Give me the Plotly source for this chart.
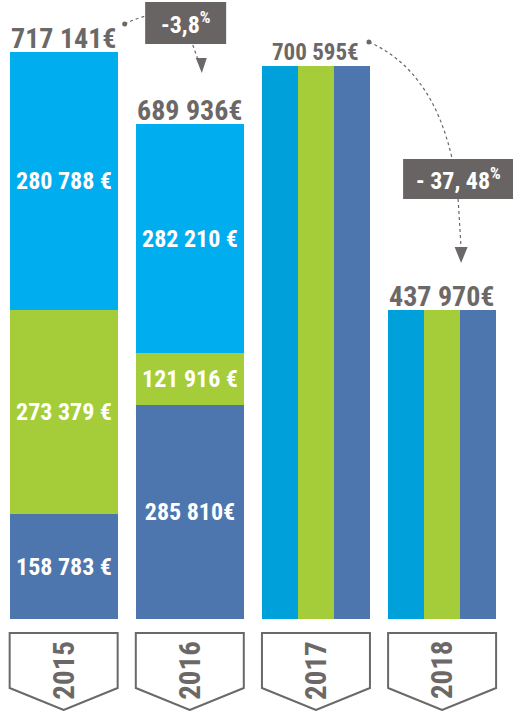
import plotly.graph_objects as go

# ---------------- data ----------------
years = ["2015", "2016", "2017", "2018"]
totals_label = ["717 141€", "689 936€", "700 595€", "437 970€"]
# stacked segments (2015, 2016): labels and drawn heights (graphic is not to scale)
seg_labels_bottom = ["158 783 €", "285 810€"]
seg_labels_middle = ["273 379 €", "121 916 €"]
seg_labels_top = ["280 788 €", "282 210 €"]
seg_h_bottom = [105, 214]
seg_h_middle = [204, 52]
seg_h_top = [258, 229]
# split columns (2017, 2018): drawn heights
split_h = [553, 309]
changes = ["-3,8<sup>%</sup>", "- 37, 48<sup>%</sup>"]

# ---------------- style ----------------
W, H = 513, 711
FONT = "Roboto Condensed, Open Sans Condensed, Roboto, sans-serif"
CYAN = "#00AEEF"
CYAN2 = "#00A0DA"
GREEN = "#A4CD39"
BLUE = "#4D76AE"
GRAY = "#6C6867"
BOXGRAY = "#686463"

X0, X1 = -0.5046, 3.562          # category-index axis range
PXU = W / (X1 - X0)              # pixels per category unit
Y0, Y1 = -92, 619                # y axis in drawn units (1 unit = 1 px)
BW = 108 / PXU                   # bar width
SW = BW / 3                      # sub-bar width

fig = go.Figure()

# stacked bars
base_mid = seg_h_bottom
base_top = [a + b for a, b in zip(seg_h_bottom, seg_h_middle)]
for ys, bases, col, labs in [
    (seg_h_bottom, [0, 0], BLUE, seg_labels_bottom),
    (seg_h_middle, base_mid, GREEN, seg_labels_middle),
    (seg_h_top, base_top, CYAN, seg_labels_top),
]:
    fig.add_trace(go.Bar(
        x=[0, 1], y=ys, base=bases, width=BW, marker=dict(color=col, line=dict(width=0)),
        text=["<b>%s</b>" % t for t in labs], textposition="inside", insidetextanchor="middle",
        constraintext="none", textangle=0,
        textfont=dict(color="white", size=24, family=FONT), hoverinfo="skip", showlegend=False,
    ))

# split bars
for j, col in enumerate([CYAN2, GREEN, BLUE]):
    fig.add_trace(go.Bar(
        x=[2 + (j - 1) * SW, 3 + (j - 1) * SW], y=split_h, base=[0, 0], width=SW,
        marker=dict(color=col, line=dict(width=0)), textposition="none",
        hoverinfo="skip", showlegend=False,
    ))

tops = [b + t for b, t in zip(base_top, seg_h_top)] + split_h
sizes = [28, 28, 23, 28]
annotations = []
for i, (lab, top) in enumerate(zip(totals_label, tops)):
    annotations.append(dict(x=i, y=top + 14, text="<b>%s</b>" % lab, showarrow=False,
                            xanchor="center", yanchor="middle",
                            font=dict(size=sizes[i], color=GRAY, family=FONT)))

# year badges
shapes = []
for i, yr in enumerate(years):
    l, r = i - BW / 2, i + BW / 2
    path = "M %f,%f L %f,%f L %f,%f L %f,%f L %f,%f Z" % (l, -14, r, -14, r, -69, i, -91, l, -69)
    shapes.append(dict(type="path", path=path, line=dict(color=GRAY, width=2), fillcolor="white",
                       xref="x", yref="y"))
    annotations.append(dict(x=i, y=-51, text="<b>%s</b>" % yr, textangle=-90, showarrow=False,
                            font=dict(size=29, color=GRAY, family=FONT)))

def px(dx):
    return dx / PXU

def box(cx, cy, w, h, text, size):
    shapes.append(dict(type="rect", x0=cx - px(w / 2), x1=cx + px(w / 2), y0=cy - h / 2, y1=cy + h / 2,
                       fillcolor=BOXGRAY, line=dict(width=0), layer="above"))
    annotations.append(dict(x=cx, y=cy, text="<b>%s</b>" % text, showarrow=False,
                            font=dict(size=size, color="white", family=FONT)))

# change 1: 2015 -> 2016
t0, t1 = tops[0], tops[1]
sx, sy = 0 + px(61), t0 + 28
ex, ey = 0 + px(82), t0 + 36
shapes.append(dict(type="path", path="M %f,%f Q %f,%f %f,%f" % (sx, sy, sx + px(10), sy + 5, ex, ey),
                   line=dict(color=GRAY, width=1.2, dash="dot")))
shapes.append(dict(type="circle", x0=sx - px(2.5), x1=sx + px(2.5), y0=sy - 2.5, y1=sy + 2.5,
                   fillcolor=GRAY, line=dict(width=0)))
box(0 + px(122), t0 + 29, 81, 42, changes[0], 24)
ax0, ay0 = 1 + px(3), t1 + 79
ax1, ay1 = 1 + px(12), t1 + 51
shapes.append(dict(type="path", path="M %f,%f L %f,%f" % (ax0, ay0, 1 + px(9), t1 + 62),
                   line=dict(color=GRAY, width=1.2, dash="dot")))
shapes.append(dict(type="path", path="M %f,%f L %f,%f L %f,%f Z" % (ax1 - px(6), ay1 + 15, ax1 + px(5), ay1 + 15, ax1, ay1),
                   fillcolor=GRAY, line=dict(width=0)))

# change 2: 2017 -> 2018
t2, t3 = tops[2], tops[3]
sx, sy = 2 + px(53), t2 + 24
ex, ey = 2 + px(136), t2 - 92
shapes.append(dict(type="path", path="M %f,%f Q %f,%f %f,%f" % (sx, sy, 2 + px(116), t2 - 4, ex, ey),
                   line=dict(color=GRAY, width=1.2, dash="dot")))
shapes.append(dict(type="circle", x0=sx - px(2.5), x1=sx + px(2.5), y0=sy - 2.5, y1=sy + 2.5,
                   fillcolor=GRAY, line=dict(width=0)))
box(3 + px(16), t3 + 131, 110, 40, changes[1], 24)
ax1, ay1 = 3 + px(19), t3 + 47
shapes.append(dict(type="path", path="M %f,%f L %f,%f" % (3 + px(16), t3 + 111, ax1, ay1 + 15),
                   line=dict(color=GRAY, width=1.2, dash="dot")))
shapes.append(dict(type="path", path="M %f,%f L %f,%f L %f,%f Z" % (ax1 - px(6.5), ay1 + 16, ax1 + px(6.5), ay1 + 16, ax1, ay1),
                   fillcolor=GRAY, line=dict(width=0)))

fig.update_layout(
    width=W, height=H, margin=dict(l=0, r=0, t=0, b=0),
    paper_bgcolor="white", plot_bgcolor="white",
    barmode="overlay", bargap=0,
    xaxis=dict(range=[X0, X1], visible=False, fixedrange=True),
    yaxis=dict(range=[Y0, Y1], visible=False, fixedrange=True),
    shapes=shapes, annotations=annotations, showlegend=False,
)

fig.write_html("out.html", config={"displayModeBar": False},
               post_script="document.body.style.margin='0';")
